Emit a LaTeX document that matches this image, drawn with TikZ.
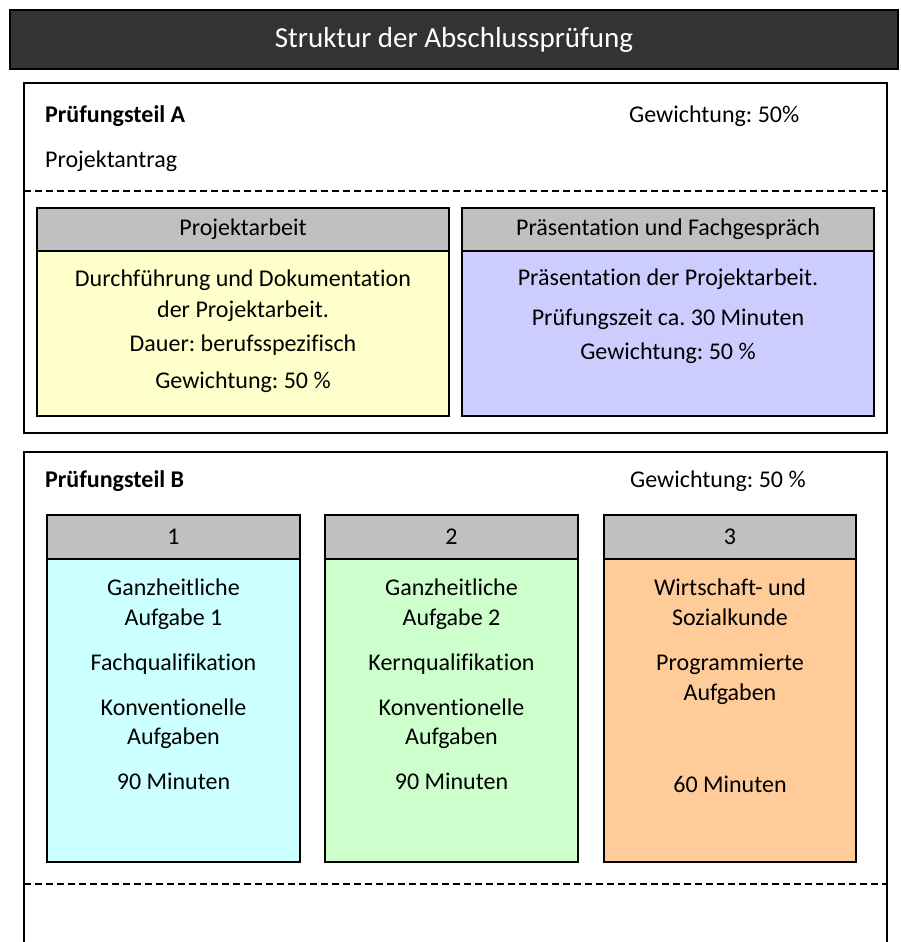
\documentclass[tikz,border=0pt]{standalone}
\usepackage{fontspec}
\setmainfont{Carlito}[Ligatures={NoCommon}]
\usepackage{xcolor}
\usetikzlibrary{positioning}
\definecolor{titlegray}{HTML}{333333}
\definecolor{headgray}{HTML}{C0C0C0}
\definecolor{paleyellow}{HTML}{FFFFCC}
\definecolor{palelilac}{HTML}{CCCCFF}
\definecolor{palecyan}{HTML}{CCFFFF}
\definecolor{palegreen}{HTML}{CCFFCC}
\definecolor{paleorange}{HTML}{FFCC99}
\newcommand{\boxfont}{\fontsize{24}{29.5}\selectfont\frenchspacing}
\tikzset{
x=1pt, y=-1pt, % work in pixels of the page, y pointing down
panel/.style={draw, line width=1.8pt, anchor=north west, inner sep=0pt, outer sep=0pt}, % the two exam parts
headbox/.style={draw, line width=1.5pt, fill=headgray, anchor=north west, inner sep=0pt, outer sep=0pt, font=\boxfont}, % grey title of a box
bodybox/.style={draw, line width=1.5pt, anchor=north, inner sep=0pt, outer sep=0pt}, % coloured part of a box
bodytext/.style={anchor=north, align=center, inner sep=0pt, outer sep=0pt, font=\boxfont}, % text inside the coloured part
tag/.style={anchor=base west, inner sep=0pt, font=\boxfont}, % free text in a panel
cut/.style={line width=1.5pt, dash pattern=on 7pt off 4pt}, % dashed separator
}

\begin{document}
\begin{tikzpicture}
        \useasboundingbox (0,0) rectangle (900,942);

        \node[draw, line width=1.5pt, fill=titlegray, text=white, minimum width=888pt, minimum height=59pt,
              font=\fontsize{29}{34}\selectfont] (title) at (454,39.5) {Struktur der Abschlussprüfung};

        % Pruefungsteil A
        \node[panel, minimum width=863pt, minimum height=350pt] (partA) at (24,83) {};
        \node[tag] (nameA) at (45,122) {\bfseries Prüfungsteil A};
        \node[tag] (weightA) at (629,122) {Gewichtung: 50\%};
        \node[tag] (antrag) at (45,167) {Projektantrag};
        \draw[cut] (partA.west |- 0,191) -- (partA.east |- 0,191);

        \node[headbox, minimum width=412pt, minimum height=43pt] (hwork) at (37,208) {Projektarbeit};
        \node[bodybox, fill=paleyellow, minimum width=412pt, minimum height=165pt, below=0pt of hwork] (bwork) {};
        \node[bodytext, below=19pt of hwork] (twork) {Durchführung und Dokumentation\\[1pt]der Projektarbeit.\\[5pt]
              Dauer: berufsspezifisch\\[7pt]Gewichtung: 50 \%};

        \node[headbox, minimum width=412pt, minimum height=43pt] (htalk) at (462,208) {Präsentation und Fachgespräch};
        \node[bodybox, fill=palelilac, minimum width=412pt, minimum height=165pt, below=0pt of htalk] (btalk) {};
        \node[bodytext, below=18pt of htalk] (ttalk) {Präsentation der Projektarbeit.\\[10pt]
              Prüfungszeit ca. 30 Minuten\\[5pt]Gewichtung: 50 \%};

        % Pruefungsteil B
        \node[panel, line width=1.4pt, minimum width=863pt, minimum height=520pt] (partB) at (24,452) {};
        \node[tag] (nameB) at (45,487) {\bfseries Prüfungsteil B};
        \node[tag] (weightB) at (630,487) {Gewichtung: 50 \%};
        \draw[cut] (partB.west |- 0,884) -- (partB.east |- 0,884);

        \node[headbox, minimum width=253pt, minimum height=44pt] (h1) at (47,515) {1};
        \node[bodybox, fill=palecyan, minimum width=253pt, minimum height=303pt, below=0pt of h1] (b1) {};
        \node[bodytext, below=20pt of h1] (t1) {Ganzheitliche\\Aufgabe 1\\[16pt]Fachqualifikation\\[15pt]
              Konventionelle\\Aufgaben\\[15pt]90 Minuten};

        \node[headbox, minimum width=253pt, minimum height=44pt] (h2) at (325,515) {2};
        \node[bodybox, fill=palegreen, minimum width=253pt, minimum height=303pt, below=0pt of h2] (b2) {};
        \node[bodytext, below=20pt of h2] (t2) {Ganzheitliche\\Aufgabe 2\\[16pt]Kernqualifikation\\[15pt]
              Konventionelle\\Aufgaben\\[15pt]90 Minuten};

        \node[headbox, minimum width=252pt, minimum height=44pt] (h3) at (604,515) {3};
        \node[bodybox, fill=paleorange, minimum width=252pt, minimum height=303pt, below=0pt of h3] (b3) {};
        \node[bodytext, below=20pt of h3] (t3) {Wirtschaft- und\\Sozialkunde\\[16pt]Programmierte\\Aufgaben\\[63pt]60 Minuten};
    \end{tikzpicture}
\end{document}
